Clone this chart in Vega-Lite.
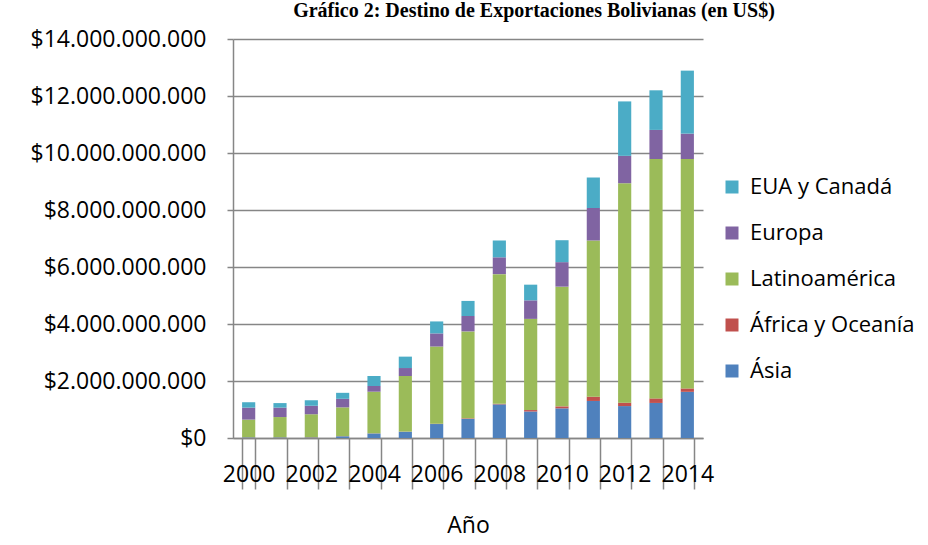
{
  "$schema": "https://vega.github.io/schema/vega-lite/v6.json",
  "autosize": {"type": "none"},
  "width": 470,
  "height": 399,
  "padding": {"left": 233, "top": 39, "right": 225, "bottom": 107},
  "background": "white",
  "title": {
    "text": "Gráfico 2: Destino de Exportaciones Bolivianas (en US$)",
    "font": "Liberation Serif",
    "fontSize": 20,
    "fontWeight": "bold",
    "color": "black",
    "anchor": "middle",
    "frame": "group",
    "baseline": "alphabetic",
    "dx": 66,
    "offset": -9
  },
  "data": {
    "values": [
      {"year": "2000", "Ásia": 20000000, "África y Oceanía": 5000000, "Latinoamérica": 620000000, "Europa": 420000000, "EUA y Canadá": 190000000},
      {"year": "2001", "Ásia": 20000000, "África y Oceanía": 5000000, "Latinoamérica": 710000000, "Europa": 330000000, "EUA y Canadá": 160000000},
      {"year": "2002", "Ásia": 20000000, "África y Oceanía": 5000000, "Latinoamérica": 810000000, "Europa": 300000000, "EUA y Canadá": 190000000},
      {"year": "2003", "Ásia": 60000000, "África y Oceanía": 5000000, "Latinoamérica": 1010000000, "Europa": 300000000, "EUA y Canadá": 210000000},
      {"year": "2004", "Ásia": 160000000, "África y Oceanía": 5000000, "Latinoamérica": 1460000000, "Europa": 200000000, "EUA y Canadá": 350000000},
      {"year": "2005", "Ásia": 220000000, "África y Oceanía": 5000000, "Latinoamérica": 1950000000, "Europa": 280000000, "EUA y Canadá": 400000000},
      {"year": "2006", "Ásia": 490000000, "África y Oceanía": 10000000, "Latinoamérica": 2710000000, "Europa": 460000000, "EUA y Canadá": 420000000},
      {"year": "2007", "Ásia": 670000000, "África y Oceanía": 20000000, "Latinoamérica": 3050000000, "Europa": 540000000, "EUA y Canadá": 530000000},
      {"year": "2008", "Ásia": 1180000000, "África y Oceanía": 20000000, "Latinoamérica": 4550000000, "Europa": 590000000, "EUA y Canadá": 590000000},
      {"year": "2009", "Ásia": 930000000, "África y Oceanía": 50000000, "Latinoamérica": 3200000000, "Europa": 650000000, "EUA y Canadá": 550000000},
      {"year": "2010", "Ásia": 1040000000, "África y Oceanía": 70000000, "Latinoamérica": 4200000000, "Europa": 860000000, "EUA y Canadá": 770000000},
      {"year": "2011", "Ásia": 1300000000, "África y Oceanía": 150000000, "Latinoamérica": 5480000000, "Europa": 1140000000, "EUA y Canadá": 1070000000},
      {"year": "2012", "Ásia": 1120000000, "África y Oceanía": 120000000, "Latinoamérica": 7700000000, "Europa": 960000000, "EUA y Canadá": 1910000000},
      {"year": "2013", "Ásia": 1230000000, "África y Oceanía": 160000000, "Latinoamérica": 8400000000, "Europa": 1020000000, "EUA y Canadá": 1390000000},
      {"year": "2014", "Ásia": 1620000000, "África y Oceanía": 120000000, "Latinoamérica": 8050000000, "Europa": 890000000, "EUA y Canadá": 2210000000}
    ]
  },
  "transform": [
    {"fold": ["Ásia", "África y Oceanía", "Latinoamérica", "Europa", "EUA y Canadá"], "as": ["region", "value"]}
  ],
  "mark": {"type": "bar"},
  "encoding": {
    "x": {
      "field": "year",
      "type": "ordinal",
      "scale": {"paddingInner": 0.58, "paddingOuter": 0.29},
      "axis": {
        "title": "Año",
        "labelAngle": 0,
        "labelExpr": "toNumber(datum.value) % 2 == 0 ? datum.label : ''",
        "tickBand": "extent",
        "tickSize": 51,
        "tickWidth": 1.5,
        "tickColor": "#868686",
        "domainColor": "#868686",
        "domainWidth": 1.5,
        "labelPadding": -26,
        "labelFont": "Open Sans",
        "labelFontSize": 23,
        "labelColor": "black",
        "labelOverlap": false,
        "titleFont": "Open Sans",
        "titleFontSize": 23,
        "titleFontWeight": "normal",
        "titleColor": "black",
        "titlePadding": 25
      }
    },
    "y": {
      "field": "value",
      "type": "quantitative",
      "stack": "zero",
      "scale": {"domain": [0, 14000000000], "nice": false},
      "axis": {
        "title": null,
        "values": [0, 2000000000, 4000000000, 6000000000, 8000000000, 10000000000, 12000000000, 14000000000],
        "labelExpr": "'$' + replace(replace(replace(format(datum.value, ','), ',', '.'), ',', '.'), ',', '.')",
        "grid": true,
        "gridColor": "#868686",
        "gridWidth": 1.5,
        "tickSize": 6,
        "tickColor": "#868686",
        "tickWidth": 1.5,
        "domainColor": "#868686",
        "domainWidth": 1.5,
        "labelPadding": 21,
        "labelFont": "Open Sans",
        "labelFontSize": 23,
        "labelColor": "black"
      }
    },
    "color": {
      "field": "region",
      "type": "nominal",
      "scale": {
        "domain": ["EUA y Canadá", "Europa", "Latinoamérica", "África y Oceanía", "Ásia"],
        "range": ["#4BACC6", "#8064A2", "#9BBB59", "#C0504D", "#4F81BD"]
      },
      "legend": {
        "title": null,
        "orient": "none",
        "legendX": 488,
        "legendY": 137,
        "symbolType": "square",
        "symbolSize": 169,
        "symbolStrokeWidth": 0,
        "labelFont": "Open Sans",
        "labelFontSize": 22,
        "labelColor": "black",
        "labelOffset": 7,
        "labelLimit": 400,
        "rowPadding": 24
      }
    },
    "order": {"field": "region", "sort": "descending"}
  },
  "config": {
    "view": {"stroke": null}
  }
}
